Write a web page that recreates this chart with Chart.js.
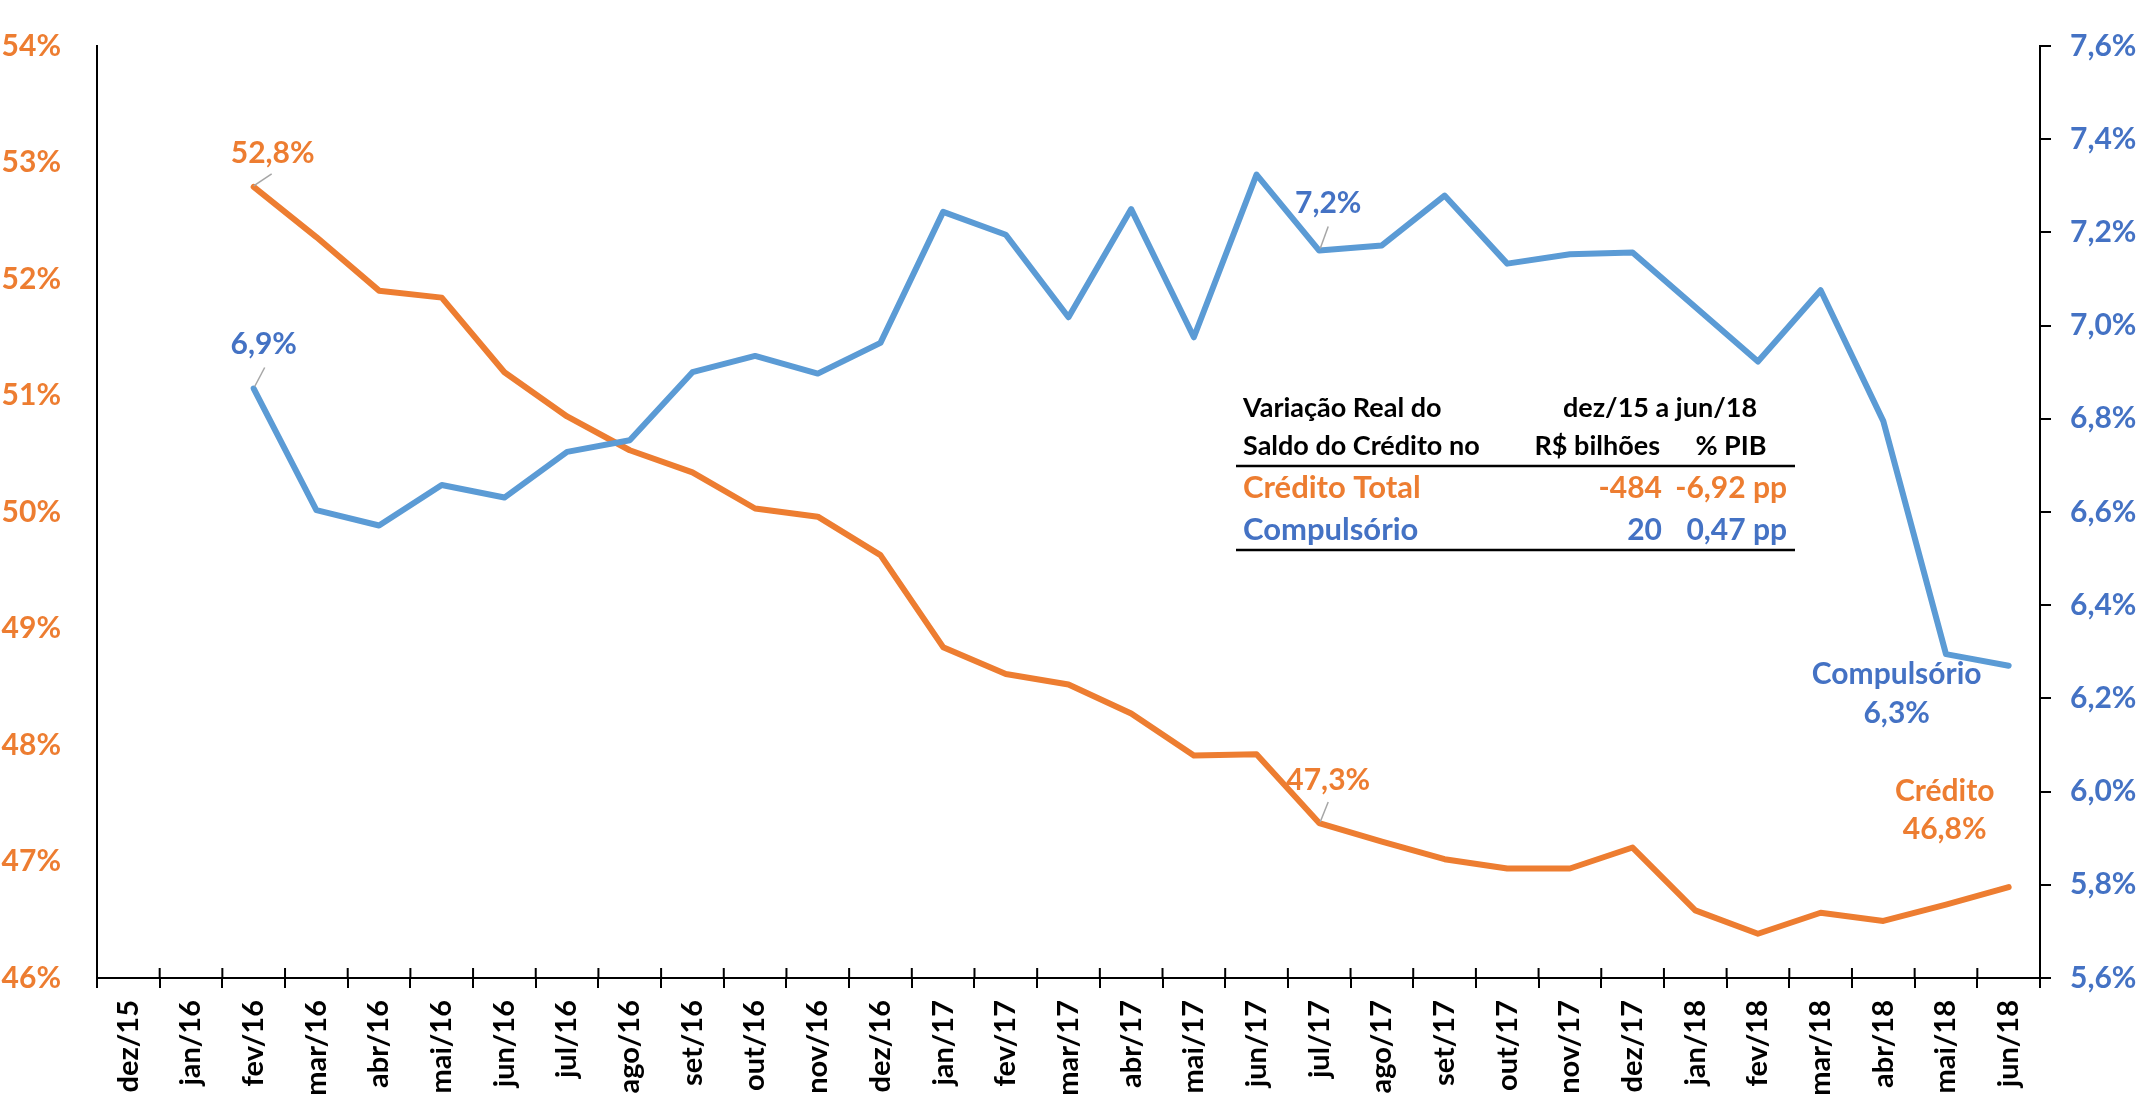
<!DOCTYPE html>
<html>
<head>
<meta charset="utf-8">
<script src="https://cdn.jsdelivr.net/npm/chart.js@4.4.0/dist/chart.umd.min.js"></script>
<style>
  html, body { margin: 0; padding: 0; background: #fff; }
  #wrap { width: 2139px; height: 1095px; position: relative; }
</style>
</head>
<body>
<div id="wrap"><canvas id="creditoChart"></canvas></div>
<script>
// dados (dez/15 a jun/18)
const meses = ['dez/15', 'jan/16', 'fev/16', 'mar/16', 'abr/16', 'mai/16', 'jun/16', 'jul/16', 'ago/16',
  'set/16', 'out/16', 'nov/16', 'dez/16', 'jan/17', 'fev/17', 'mar/17', 'abr/17', 'mai/17', 'jun/17',
  'jul/17', 'ago/17', 'set/17', 'out/17', 'nov/17', 'dez/17', 'jan/18', 'fev/18', 'mar/18', 'abr/18',
  'mai/18', 'jun/18'];

// Crédito total, % PIB (eixo esquerdo)
const credito = [null, null, 52.79, 52.36, 51.90, 51.84, 51.20, 50.82, 50.53, 50.34, 50.03, 49.96, 49.63,
  48.84, 48.61, 48.52, 48.27, 47.91, 47.92, 47.33, 47.17, 47.02, 46.94, 46.94, 47.12,
  46.58, 46.38, 46.56, 46.49, 46.63, 46.78];

// Compulsório, % PIB (eixo direito)
const compulsorio = [null, null, 6.865, 6.604, 6.571, 6.658, 6.631, 6.729, 6.754, 6.900, 6.935, 6.897, 6.963,
  7.244, 7.195, 7.018, 7.250, 6.975, 7.324, 7.161, 7.172, 7.279, 7.133, 7.153, 7.157,
  7.040, 6.923, 7.076, 6.795, 6.295, 6.270];

// quadro "Variação Real do Saldo do Crédito"
const tabelaCabecalho = [['Variação Real do', 'dez/15 a jun/18'], ['Saldo do Crédito no', 'R$ bilhões', '% PIB']];
const tabelaLinhas = [['Crédito Total', '-484', '-6,92 pp'], ['Compulsório', '20', '0,47 pp']];

const LARANJA = '#ED7D31';
const AZUL_LINHA = '#5B9BD5';
const AZUL_TEXTO = '#4472C4';
const FONTE = 'Lato, "Open Sans", sans-serif';

const fmt = v => v.toFixed(1).replace('.', ',') + '%';

// rótulos de dados: série, ponto, deslocamentos em px
const rotulos = [
  { ds: 0, idx: 2, linhas: [null], dx: 19, dy: [-34], guia: [0, -1, 18, -13], cor: LARANJA },
  { ds: 1, idx: 2, linhas: [null], dx: 10, dy: [-44], guia: [1, -2, 11, -21], cor: AZUL_TEXTO },
  { ds: 1, idx: 19, linhas: [null], dx: 9, dy: [-47], guia: [1, -2, 9, -24], cor: AZUL_TEXTO },
  { ds: 0, idx: 19, linhas: [null], dx: 9, dy: [-43], guia: [1, -1, 9, -21], cor: LARANJA },
  { ds: 1, idx: 30, linhas: ['Compulsório', null], dx: -112, dy: [9, 48], cor: AZUL_TEXTO },
  { ds: 0, idx: 30, linhas: ['Crédito', null], dx: -64, dy: [-96, -58], cor: LARANJA }
];

const rotulosPlugin = {
  id: 'rotulos',
  afterDatasetsDraw(chart) {
    const ctx = chart.ctx;
    ctx.save();
    rotulos.forEach(r => {
      const pt = chart.getDatasetMeta(r.ds).data[r.idx];
      const valor = chart.data.datasets[r.ds].data[r.idx];
      if (r.guia) {
        ctx.strokeStyle = '#A6A6A6';
        ctx.lineWidth = 1.5;
        ctx.beginPath();
        ctx.moveTo(pt.x + r.guia[0], pt.y + r.guia[1]);
        ctx.lineTo(pt.x + r.guia[2], pt.y + r.guia[3]);
        ctx.stroke();
      }
      ctx.fillStyle = r.cor;
      ctx.font = 'bold 30px ' + FONTE;
      ctx.textAlign = 'center';
      ctx.textBaseline = 'middle';
      r.linhas.forEach((txt, k) => {
        ctx.fillText(txt === null ? fmt(valor) : txt, pt.x + r.dx, pt.y + r.dy[k]);
      });
    });
    ctx.restore();
  }
};

// marcas do eixo x atravessando o eixo (parte interna)
const marcasPlugin = {
  id: 'marcas',
  afterDraw(chart) {
    const x = chart.scales.x;
    const ctx = chart.ctx;
    const passo = x.getPixelForValue(1) - x.getPixelForValue(0);
    ctx.save();
    ctx.strokeStyle = '#000';
    ctx.lineWidth = 2;
    ctx.beginPath();
    for (let i = 0; i <= meses.length; i++) {
      const px = x.getPixelForValue(i) - passo / 2;
      ctx.moveTo(px, x.top - 10);
      ctx.lineTo(px, x.top);
    }
    ctx.stroke();
    ctx.restore();
  }
};

const tabelaPlugin = {
  id: 'tabela',
  afterDraw(chart) {
    const ctx = chart.ctx;
    ctx.save();
    ctx.textBaseline = 'alphabetic';
    // cabeçalho
    ctx.fillStyle = '#000';
    ctx.font = 'bold 27px ' + FONTE;
    ctx.textAlign = 'left';
    ctx.fillText(tabelaCabecalho[0][0], 1243, 417);
    ctx.fillText(tabelaCabecalho[1][0], 1243, 455);
    ctx.textAlign = 'center';
    ctx.fillText(tabelaCabecalho[0][1], 1660, 417);
    ctx.fillText(tabelaCabecalho[1][2], 1731, 455);
    ctx.textAlign = 'right';
    ctx.fillText(tabelaCabecalho[1][1], 1660, 455);
    // linhas
    const cores = [LARANJA, AZUL_TEXTO];
    const bases = [498, 540];
    tabelaLinhas.forEach((lin, k) => {
      ctx.fillStyle = cores[k];
      ctx.font = 'bold 31px ' + FONTE;
      ctx.textAlign = 'left';
      ctx.fillText(lin[0], 1243, bases[k]);
      ctx.font = 'bold 30px ' + FONTE;
      ctx.textAlign = 'right';
      ctx.fillText(lin[1], 1662, bases[k]);
      ctx.fillText(lin[2], 1787, bases[k]);
    });
    ctx.strokeStyle = '#000';
    ctx.lineWidth = 2.5;
    ctx.beginPath();
    ctx.moveTo(1236, 466); ctx.lineTo(1795, 466);
    ctx.moveTo(1236, 550); ctx.lineTo(1795, 550);
    ctx.stroke();
    ctx.restore();
  }
};

Chart.defaults.font.family = FONTE;

new Chart(document.getElementById('creditoChart'), {
  type: 'line',
  data: {
    labels: meses,
    datasets: [
      {
        label: 'Crédito',
        data: credito,
        yAxisID: 'y',
        borderColor: LARANJA,
        borderWidth: 6,
        pointRadius: 0,
        tension: 0,
        borderJoinStyle: 'round',
        borderCapStyle: 'round',
        order: 1
      },
      {
        label: 'Compulsório',
        data: compulsorio,
        yAxisID: 'y1',
        borderColor: AZUL_LINHA,
        borderWidth: 6,
        pointRadius: 0,
        tension: 0,
        borderJoinStyle: 'round',
        borderCapStyle: 'round',
        order: 0
      }
    ]
  },
  options: {
    responsive: true,
    maintainAspectRatio: false,
    animation: false,
    layout: { padding: { top: 26, left: 0, right: 0, bottom: 0 } },
    plugins: {
      legend: { display: false },
      tooltip: { enabled: false }
    },
    scales: {
      x: {
        offset: true,
        grid: { offset: true, drawOnChartArea: false, drawTicks: true, tickLength: 10, color: '#000', lineWidth: 2 },
        border: { display: true, color: '#000', width: 2 },
        ticks: {
          color: '#000',
          font: { size: 29, weight: 'bold' },
          minRotation: 90,
          maxRotation: 90,
          padding: 12,
          autoSkip: false
        },
        afterFit(s) { s.height = 117; }
      },
      y: {
        position: 'left',
        min: 46,
        max: 54,
        grid: { display: false },
        border: { display: true, color: '#000', width: 2 },
        ticks: {
          stepSize: 1,
          color: LARANJA,
          font: { size: 30, weight: 'bold' },
          padding: 28,
          callback: v => v + '%'
        },
        afterFit(s) { s.width = 97; }
      },
      y1: {
        position: 'right',
        min: 5.6,
        max: 7.6,
        grid: { display: true, drawOnChartArea: false, drawTicks: true, tickLength: 11, color: '#000', lineWidth: 2 },
        border: { display: true, color: '#000', width: 2 },
        ticks: {
          stepSize: 0.2,
          color: AZUL_TEXTO,
          font: { size: 30, weight: 'bold' },
          padding: 19,
          callback: v => fmt(v)
        },
        afterFit(s) { s.width = 99; }
      }
    }
  },
  plugins: [rotulosPlugin, marcasPlugin, tabelaPlugin]
});
</script>
</body>
</html>
